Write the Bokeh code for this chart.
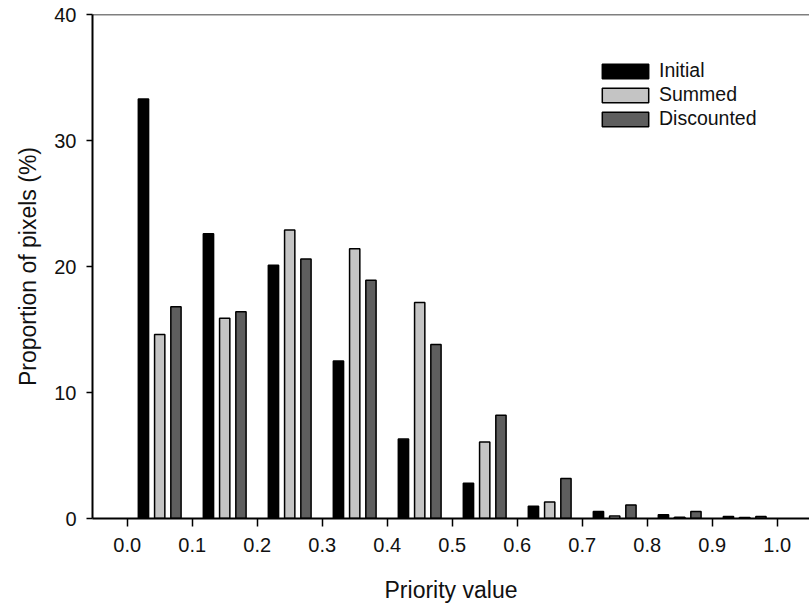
from bokeh.plotting import figure
from bokeh.models import ColumnDataSource, Range1d, FixedTicker, Span, Legend, LegendItem, CustomJSTickFormatter
from bokeh.embed import file_html
from bokeh.resources import INLINE

# Data
bin_start = [0.0, 0.1, 0.2, 0.3, 0.4, 0.5, 0.6, 0.7, 0.8, 0.9]
initial = [33.3, 22.6, 20.1, 12.5, 6.3, 2.8, 0.98, 0.55, 0.3, 0.15]
summed = [14.6, 15.9, 22.9, 21.4, 17.15, 6.07, 1.3, 0.2, 0.1, 0.08]
discounted = [16.8, 16.4, 20.6, 18.9, 13.8, 8.2, 3.17, 1.08, 0.55, 0.15]
x_ticks = [0.0, 0.1, 0.2, 0.3, 0.4, 0.5, 0.6, 0.7, 0.8, 0.9, 1.0]
y_ticks = [0, 10, 20, 30, 40]

offsets = {"Initial": 0.025, "Summed": 0.05, "Discounted": 0.075}
colors = {"Initial": "#000000", "Summed": "#c4c4c4", "Discounted": "#5e5e5e"}
bar_w = 0.0158

FONT = "Liberation Sans"

p = figure(width=809, height=606, output_backend="svg", toolbar_location=None,
           x_range=Range1d(-0.0534, 1.0497), y_range=Range1d(0, 40),
           min_border_left=92, min_border_right=0, min_border_top=14, min_border_bottom=88)
p.xgrid.visible = False
p.ygrid.visible = False
p.outline_line_color = None
p.background_fill_color = "white"
p.border_fill_color = "white"

items = []
for name, vals in [("Initial", initial), ("Summed", summed), ("Discounted", discounted)]:
    src = ColumnDataSource(dict(x=[b + offsets[name] for b in bin_start], top=vals))
    r = p.vbar(x="x", top="top", bottom=0, width=bar_w, source=src,
               fill_color=colors[name], line_color="black", line_width=1.5)
    items.append(LegendItem(label=name, renderers=[r]))

legend = Legend(items=items, location=(504, 388), padding=0, margin=0,
                border_line_color=None, background_fill_alpha=0,
                glyph_width=58, glyph_height=18, label_height=22, spacing=1,
                label_standoff=5, label_text_font=FONT, label_text_font_size="19.5px",
                label_text_color="#111111")
p.add_layout(legend)

# top line
p.add_layout(Span(location=40, dimension="width", line_color="black", line_width=1.5))

xa = p.xaxis[0]
xa.ticker = FixedTicker(ticks=x_ticks)
xa.formatter = CustomJSTickFormatter(code="return tick.toFixed(1);")
xa.minor_tick_line_color = None
xa.major_tick_out = 8
xa.major_tick_in = 0
xa.axis_line_width = 2
xa.major_tick_line_width = 1.5
xa.major_label_text_font = FONT
xa.major_label_text_font_size = "20px"
xa.major_label_text_color = "#111111"
xa.major_label_standoff = 11
xa.axis_label = "Priority value"
xa.axis_label_text_font = FONT
xa.axis_label_text_font_size = "23px"
xa.axis_label_text_font_style = "normal"
xa.axis_label_text_color = "#111111"
xa.axis_label_standoff = 22

ya = p.yaxis[0]
ya.ticker = FixedTicker(ticks=y_ticks)
ya.minor_tick_line_color = None
ya.major_tick_out = 6
ya.major_tick_in = 0
ya.axis_line_width = 2
ya.major_tick_line_width = 1.5
ya.major_label_text_font = FONT
ya.major_label_text_font_size = "20px"
ya.major_label_text_color = "#111111"
ya.major_label_standoff = 10
ya.axis_label = "Proportion of pixels (%)"
ya.axis_label_text_font = FONT
ya.axis_label_text_font_size = "23px"
ya.axis_label_text_font_style = "normal"
ya.axis_label_text_color = "#111111"
ya.axis_label_standoff = 10

open("out.html", "w").write(file_html(p, INLINE))
